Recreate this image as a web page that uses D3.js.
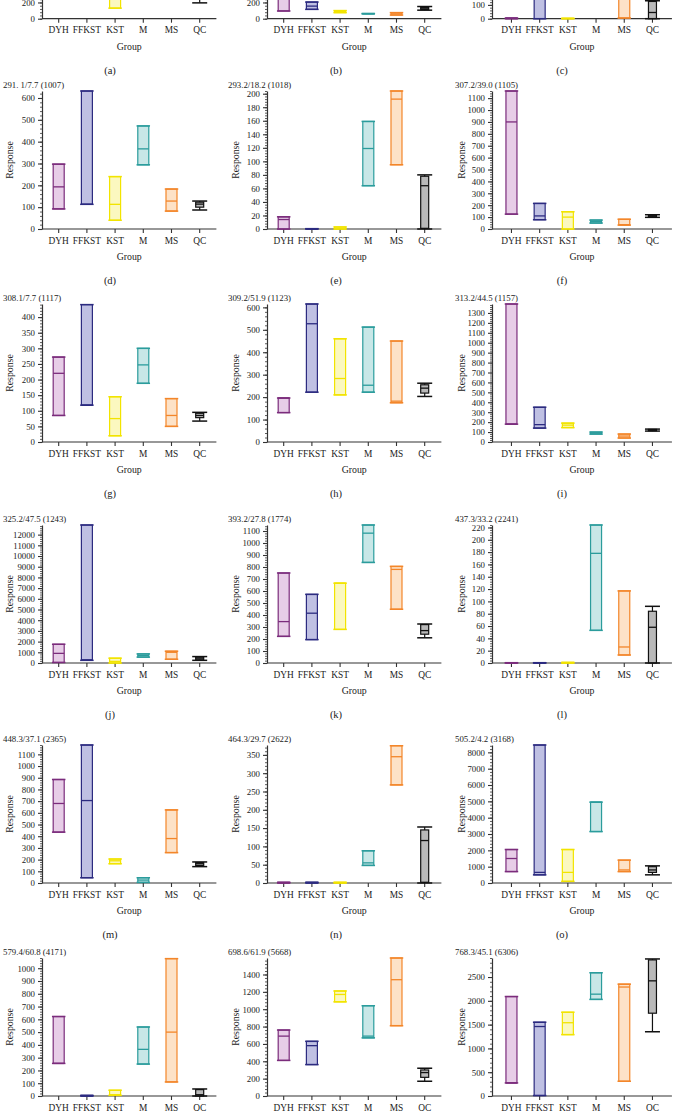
<!DOCTYPE html>
<html>
<head>
<meta charset="utf-8">
<script src="https://cdn.jsdelivr.net/npm/d3@7"></script>
<style>
body { margin: 0; background: #fff; }
svg { display: block; }
text { font-family: "Liberation Serif", "DejaVu Serif", serif; fill: #222; }
</style>
</head>
<body>
<svg width="674" height="1111"></svg>
<script>
var groups = ["DYH", "FFKST", "KST", "M", "MS", "QC"];
var letters = ["a", "b", "c", "d", "e", "f", "g", "h", "i", "j", "k", "l", "m", "n", "o", "p", "q", "r"];
var titles = ["", "", "",
    "291. 1/7.7 (1007)", "293.2/18.2 (1018)", "307.2/39.0 (1105)",
    "308.1/7.7 (1117)", "309.2/51.9 (1123)", "313.2/44.5 (1157)",
    "325.2/47.5 (1243)", "393.2/27.8 (1774)", "437.3/33.2 (2241)",
    "448.3/37.1 (2365)", "464.3/29.7 (2622)", "505.2/4.2 (3168)",
    "579.4/60.8 (4171)", "698.6/61.9 (5668)", "768.3/45.1 (6306)"];
var yTop = [1700, 1700, 1000, 632, 204, 1160, 442, 615, 1390, 12900, 1150, 224, 1180, 377, 8450, 1080, 1590, 2900];
var yStep = [200, 200, 100, 100, 20, 100, 50, 100, 100, 1000, 100, 20, 100, 50, 1000, 100, 200, 500];

// per panel, in group order DYH, FFKST, KST, M, MS, QC (QC = whisker ends)
var lows = [
    [400, 500, 130, 800, 300, 195],
    [95, 115, 75, 60, 45, 105],
    [0, 0, 0, null, 5, 0],
    [92, 113, 40, 294, 82, 87],
    [0, 0, 0, 64, 95, 0],
    [125, 78, 0, 50, 33, 98],
    [85, 118, 20, 188, 50, 67],
    [131, 222, 210, 222, 175, 203],
    [180, 140, 145, 80, 40, 110],
    [50, 250, 0, 550, 350, 250],
    [222, 195, 280, 838, 448, 210],
    [0, 0, 0, 53, 13, 0],
    [435, 45, 165, 5, 260, 140],
    [0, 0, 0, 48, 268, 0],
    [700, 500, 100, 3150, 700, 500],
    [255, 0, 5, 250, 110, 0],
    [410, 362, 1085, 670, 810, 170],
    [275, 10, 1290, 2030, 310, 1350]
];
var medians = [
    [650, 900, 300, 1000, 500, 350],
    [400, 155, 90, 62, 60, 130],
    [2, 400, 1, null, 300, 45],
    [193, 113, 113, 367, 128, 114],
    [14, 0, 1, 119, 192, 64],
    [900, 110, 100, 62, 36, 110],
    [220, 118, 75, 247, 85, 85],
    [196, 527, 283, 253, 182, 240],
    [180, 175, 170, 90, 60, 120],
    [900, 300, 150, 700, 1000, 450],
    [345, 415, 665, 1082, 780, 270],
    [0, 0, 0.5, 178, 26, 58],
    [680, 705, 190, 25, 380, 165],
    [1, 1, 1, 55, 345, 116],
    [1500, 650, 650, 4950, 800, 800],
    [255, 2, 10, 365, 500, 10],
    [690, 580, 1170, 690, 1340, 270],
    [275, 1460, 1540, 2140, 2290, 2420]
];
var highs = [
    [900, 1500, 600, 1200, 700, 600],
    [800, 205, 100, 64, 75, 150],
    [5, 900, 3, null, 700, 130],
    [297, 632, 240, 472, 183, 128],
    [18, 0.5, 3, 159, 204, 80],
    [1160, 215, 145, 75, 82, 120],
    [272, 440, 145, 300, 139, 95],
    [196, 615, 460, 512, 450, 262],
    [1390, 350, 190, 100, 80, 130],
    [1750, 12900, 450, 850, 1100, 600],
    [750, 572, 665, 1150, 805, 325],
    [0.5, 0.5, 1, 224, 117, 92],
    [885, 1180, 205, 45, 625, 180],
    [2, 2, 2, 88, 375, 153],
    [2050, 8450, 2050, 4950, 1400, 1050],
    [622, 5, 45, 540, 1075, 55],
    [760, 630, 1210, 1040, 1590, 320],
    [2090, 1550, 1760, 2590, 2350, 2880]
];
// QC box (25th / 75th percentile)
var qcBoxLow = [260, 115, 0, 100, 1, 103, 78, 218, 113, 300, 240, 0, 150, 2, 650, 0, 215, 1740];
var qcBoxHigh = [480, 140, 125, 123, 78, 116, 92, 255, 127, 550, 320, 84, 175, 145, 1000, 50, 300, 2860];

var strokeColors = ["#7b2c7c", "#2c2b80", "#f2e400", "#2b9c9c", "#f3862a", "#111111"];
var fillColors = ["#e7cde7", "#bfc0e3", "#fbf8bf", "#c8e7e7", "#fde2c7", "#b9b9b9"];

var colAxisX = [42, 267, 492];
var colPadOuter = [0.092, 0.092, 0.19];
var rowZeroY = [18.7, 229, 442, 663, 883, 1096];
var plotH = 138;
var step = 28.2;
var pageH = 1111;

var svg = d3.select("svg");

letters.forEach(function (letter, i) {
    var col = i % 3, row = Math.floor(i / 3);
    var x0 = colAxisX[col], zy = rowZeroY[row];
    var w = step * (6 + 2 * colPadOuter[col]);

    var x = d3.scaleBand().domain(groups).range([x0, x0 + w])
        .paddingInner(0).paddingOuter(colPadOuter[col]);
    var y = d3.scaleLinear().domain([0, yTop[i]]).range([zy, zy - plotH]);

    var g = svg.append("g");

    // minor ticks
    var minor = d3.range(0, yTop[i] + 1e-9, yStep[i] / 5);
    g.append("g")
        .attr("transform", "translate(" + x0 + ",0)")
        .call(d3.axisLeft(y).tickValues(minor).tickSize(2).tickFormat(""))
        .call(function (a) { a.select(".domain").remove(); })
        .selectAll("line").attr("stroke", "#333").attr("stroke-width", 0.8);

    var yAxis = g.append("g")
        .attr("transform", "translate(" + x0 + ",0)")
        .call(d3.axisLeft(y).tickValues(d3.range(0, yTop[i] + 1e-9, yStep[i]))
            .tickFormat(d3.format("d"))
            .tickSize(4).tickSizeOuter(0).tickPadding(3));
    yAxis.select(".domain").attr("stroke", "#333").attr("stroke-width", 1.2);
    yAxis.selectAll("line").attr("stroke", "#333").attr("stroke-width", 1.1);
    yAxis.selectAll("text").style("font-size", "8.8px").attr("fill", "#222")
        .style("font-family", '"Liberation Serif", serif');
    // labels lying wholly above the page are not drawn
    yAxis.selectAll(".tick").filter(function (d) { return y(d) < -4; })
        .select("text").remove();

    var xAxis = g.append("g")
        .attr("transform", "translate(0," + zy + ")")
        .call(d3.axisBottom(x).tickSize(4).tickSizeOuter(0).tickPadding(4));
    xAxis.select(".domain").attr("stroke", "#333").attr("stroke-width", 1.2)
        .attr("d", "M" + x0 + ",0H" + (x0 + w));
    xAxis.selectAll("line").attr("stroke", "#333").attr("stroke-width", 1.1);
    xAxis.selectAll("text").style("font-size", "9.4px").attr("fill", "#222")
        .style("font-family", '"Liberation Serif", serif');

    // floating bars (min to max, line at median) and QC box plot
    groups.forEach(function (grp, j) {
        if (lows[i][j] == null) return;
        var xc = x(grp) + x.bandwidth() / 2;
        var sc = strokeColors[j], fc = fillColors[j];
        var yl = y(lows[i][j]), yh = y(highs[i][j]), ym = y(medians[i][j]);
        if (grp !== "QC") {
            var bw = 11, cw = 13.5;
            g.append("rect")
                .attr("x", xc - bw / 2).attr("y", yh)
                .attr("width", bw).attr("height", Math.max(0, yl - yh))
                .attr("fill", fc).attr("stroke", sc).attr("stroke-width", 1.2);
            [yl, yh].forEach(function (yy) {
                g.append("line").attr("x1", xc - cw / 2).attr("x2", xc + cw / 2)
                    .attr("y1", yy).attr("y2", yy)
                    .attr("stroke", sc).attr("stroke-width", 1.5);
            });
            g.append("line").attr("x1", xc - bw / 2).attr("x2", xc + bw / 2)
                .attr("y1", ym).attr("y2", ym)
                .attr("stroke", sc).attr("stroke-width", 1.3);
        } else {
            var boxW = 8, capW = 15;
            var b0 = y(qcBoxLow[i]), b1 = y(qcBoxHigh[i]);
            g.append("line").attr("x1", xc).attr("x2", xc)
                .attr("y1", yl).attr("y2", yh)
                .attr("stroke", sc).attr("stroke-width", 1.2);
            g.append("rect")
                .attr("x", xc - boxW / 2).attr("y", b1)
                .attr("width", boxW).attr("height", Math.max(0, b0 - b1))
                .attr("fill", fc).attr("stroke", sc).attr("stroke-width", 1.2);
            [yl, yh].forEach(function (yy) {
                g.append("line").attr("x1", xc - capW / 2).attr("x2", xc + capW / 2)
                    .attr("y1", yy).attr("y2", yy)
                    .attr("stroke", sc).attr("stroke-width", 1.5);
            });
            g.append("line").attr("x1", xc - boxW / 2).attr("x2", xc + boxW / 2)
                .attr("y1", ym).attr("y2", ym)
                .attr("stroke", sc).attr("stroke-width", 1.3);
        }
    });

    // texts
    var colTitleX = [3, 228, 455];
    var colRespX = [10, 236, 462];
    var colLetterX = [110, 336, 562];
    if (zy - 141 > 0) {
        g.append("text").attr("x", colTitleX[col]).attr("y", zy - 141)
            .style("font-size", "8.8px").text(titles[i]);
        g.append("text")
            .attr("transform", "translate(" + colRespX[col] + "," + (zy - plotH / 2) + ") rotate(-90)")
            .attr("text-anchor", "middle").attr("dy", "0.35em")
            .style("font-size", "9.8px").text("Response");
    }
    if (zy + 24 < pageH) {
        g.append("text").attr("x", x0 + w / 2).attr("y", zy + 31)
            .attr("text-anchor", "middle").style("font-size", "9.8px").text("Group");
    }
    if (zy + 47 < pageH) {
        g.append("text").attr("x", colLetterX[col]).attr("y", zy + 55)
            .attr("text-anchor", "middle").style("font-size", "10.5px").text("(" + letter + ")");
    }
});
</script>
</body>
</html>
